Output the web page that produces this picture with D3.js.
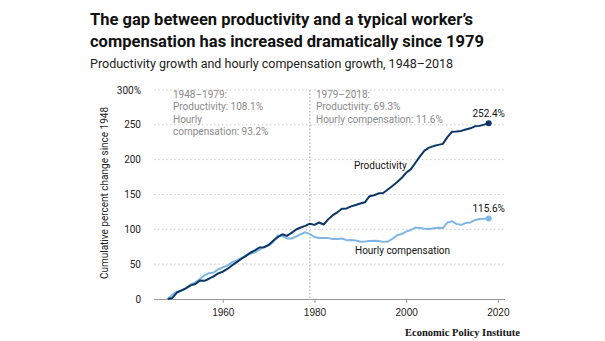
<!DOCTYPE html>
<html lang="en">
<head>
<meta charset="UTF-8">
<title>Productivity vs compensation</title>
<script src="https://d3js.org/d3.v7.min.js"></script>
<style>
    body { margin: 0; background: #fff; }
    svg { display: block; font-family: Roboto, "Noto Sans", sans-serif; }
    .title { font-size: 16.5px; font-weight: 700; fill: #111; }
    .subtitle { font-size: 12.5px; fill: #222; }
    .tick-label { font-size: 10px; fill: #222; }
    .note { font-size: 10px; fill: #8a8a8a; }
    .series-label { font-size: 10px; fill: #111; }
    .source { font-family: "Liberation Serif", "DejaVu Serif", serif; font-weight: 700; font-size: 10.5px; fill: #111; }
</style>
</head>
<body>
<svg width="605" height="341"></svg>
<script>
    // cumulative % change since 1948
    const years = d3.range(1948, 2019);
    const productivity = [
        0.0, 1.5, 9.3, 12.4, 15.6, 19.5, 21.6, 26.4, 26.1, 29.1,
        32.5, 36.8, 39.2, 43.1, 48.2, 52.5, 57.4, 61.6, 66.4, 69.7,
        73.9, 74.3, 77.6, 83.5, 88.6, 93.0, 90.6, 94.9, 99.8, 102.6,
        104.9, 108.1, 106.4, 109.8, 107.0, 114.3, 120.3, 124.4, 129.6, 130.0,
        133.0, 135.0, 137.0, 138.8, 147.6, 148.9, 151.7, 152.1, 157.3, 162.3,
        167.5, 173.6, 181.2, 186.0, 195.2, 204.7, 213.1, 217.3, 219.5, 221.2,
        222.7, 232.4, 240.1, 240.4, 241.3, 243.4, 245.0, 247.8, 248.5, 250.3,
        252.4
    ];
    const compensation = [
        0.0, 6.3, 10.5, 11.8, 15.0, 20.8, 23.5, 28.7, 33.9, 37.1,
        38.1, 42.5, 45.5, 48.0, 52.5, 55.0, 58.5, 62.5, 64.9, 66.9,
        70.7, 74.4, 76.6, 82.0, 91.3, 90.3, 87.0, 86.9, 89.6, 93.0,
        95.9, 93.2, 89.0, 87.6, 87.6, 87.4, 86.0, 86.2, 86.9, 84.5,
        84.7, 84.0, 82.1, 82.4, 83.1, 83.6, 83.2, 82.0, 82.5, 86.5,
        91.3, 93.2, 96.7, 99.0, 102.6, 101.8, 100.9, 100.5, 101.6, 102.2,
        101.8, 109.6, 111.5, 107.8, 106.4, 109.1, 109.9, 113.1, 114.8, 115.1,
        115.6
    ];
    const yTicks = [0, 50, 100, 150, 200, 250, 300];
    const xTicks = [1960, 1980, 2000, 2020];
    const splitYear = 1979;
    const notesBefore = ["1948–1979:", "Productivity: 108.1%", "Hourly", "compensation: 93.2%"];
    const notesAfter = ["1979–2018:", "Productivity: 69.3%", "Hourly compensation: 11.6%"];

    const darkBlue = "#0a3765";
    const lightBlue = "#7fb6e6";

    const svg = d3.select("svg");

    const x = d3.scaleLinear().domain([1945, 2022]).range([154, 507]);
    const y = d3.scaleLinear().domain([0, 300]).range([299, 90]);

    // titles
    svg.append("text").attr("class", "title").attr("x", 90).attr("y", 25)
        .text("The gap between productivity and a typical worker’s");
    svg.append("text").attr("class", "title").attr("x", 90).attr("y", 47)
        .text("compensation has increased dramatically since 1979");
    svg.append("text").attr("class", "subtitle").attr("x", 90).attr("y", 68)
        .text("Productivity growth and hourly compensation growth, 1948–2018");

    // grid lines
    svg.append("g").selectAll("line")
        .data(yTicks.filter(d => d > 0))
        .join("line")
        .attr("x1", 154).attr("x2", 505)
        .attr("y1", d => y(d)).attr("y2", d => y(d))
        .attr("stroke", "#c8c8c8")
        .attr("stroke-width", 1)
        .attr("stroke-dasharray", "1.5,2.5");

    // y axis labels
    svg.append("g").selectAll("text")
        .data(yTicks)
        .join("text")
        .attr("class", "tick-label")
        .attr("x", 141)
        .attr("y", d => y(d) + 3.5)
        .attr("text-anchor", "end")
        .text(d => d === 300 ? "300%" : d);

    svg.append("text")
        .attr("class", "tick-label")
        .attr("transform", "translate(108,193) rotate(-90)")
        .attr("text-anchor", "middle")
        .text("Cumulative percent change since 1948");

    // x axis
    const xAxis = d3.axisBottom(x)
        .tickValues(xTicks)
        .tickSize(4)
        .tickFormat(d3.format("d"));
    const gx = svg.append("g")
        .attr("transform", `translate(0,${y(0)})`)
        .call(xAxis);
    gx.select(".domain").attr("stroke", "#999").attr("d", `M154,0.5H505`);
    gx.selectAll(".tick line").attr("stroke", "#999");
    gx.selectAll(".tick text")
        .attr("class", "tick-label")
        .attr("dy", "0.95em")
        .attr("font-family", null)
        .attr("font-size", null);

    // 1979 divider
    svg.append("line")
        .attr("x1", x(splitYear)).attr("x2", x(splitYear))
        .attr("y1", y(300)).attr("y2", y(0))
        .attr("stroke", "#9a9a9a")
        .attr("stroke-width", 1)
        .attr("stroke-dasharray", "1.5,2");

    // period notes
    svg.append("g").selectAll("text")
        .data(notesBefore)
        .join("text")
        .attr("class", "note")
        .attr("x", 173)
        .attr("y", (d, i) => 98 + i * 12.3)
        .text(d => d);
    svg.append("g").selectAll("text")
        .data(notesAfter)
        .join("text")
        .attr("class", "note")
        .attr("x", 316)
        .attr("y", (d, i) => 98 + i * 12.3)
        .text(d => d);

    // lines
    const line = d3.line()
        .x((d, i) => x(years[i]))
        .y(d => y(d));

    svg.append("path")
        .datum(compensation)
        .attr("fill", "none")
        .attr("stroke", lightBlue)
        .attr("stroke-width", 2)
        .attr("stroke-linejoin", "round")
        .attr("d", line);

    svg.append("path")
        .datum(productivity)
        .attr("fill", "none")
        .attr("stroke", darkBlue)
        .attr("stroke-width", 2)
        .attr("stroke-linejoin", "round")
        .attr("d", line);

    // end points and values
    const last = years.length - 1;
    const ends = [
        { v: productivity[last], c: darkBlue },
        { v: compensation[last], c: lightBlue }
    ];
    svg.append("g").selectAll("circle")
        .data(ends)
        .join("circle")
        .attr("cx", x(years[last]))
        .attr("cy", d => y(d.v))
        .attr("r", 3)
        .attr("fill", d => d.c);
    svg.append("g").selectAll("text")
        .data(ends)
        .join("text")
        .attr("class", "series-label")
        .attr("x", x(years[last]))
        .attr("y", d => y(d.v) - 6)
        .attr("text-anchor", "middle")
        .text(d => d.v.toFixed(1) + "%");

    svg.append("text").attr("class", "series-label")
        .attr("x", 354).attr("y", 169).text("Productivity");
    svg.append("text").attr("class", "series-label")
        .attr("x", 355).attr("y", 254).text("Hourly compensation");

    svg.append("text").attr("class", "source")
        .attr("x", 520).attr("y", 336)
        .attr("text-anchor", "end")
        .text("Economic Policy Institute");
</script>
</body>
</html>
